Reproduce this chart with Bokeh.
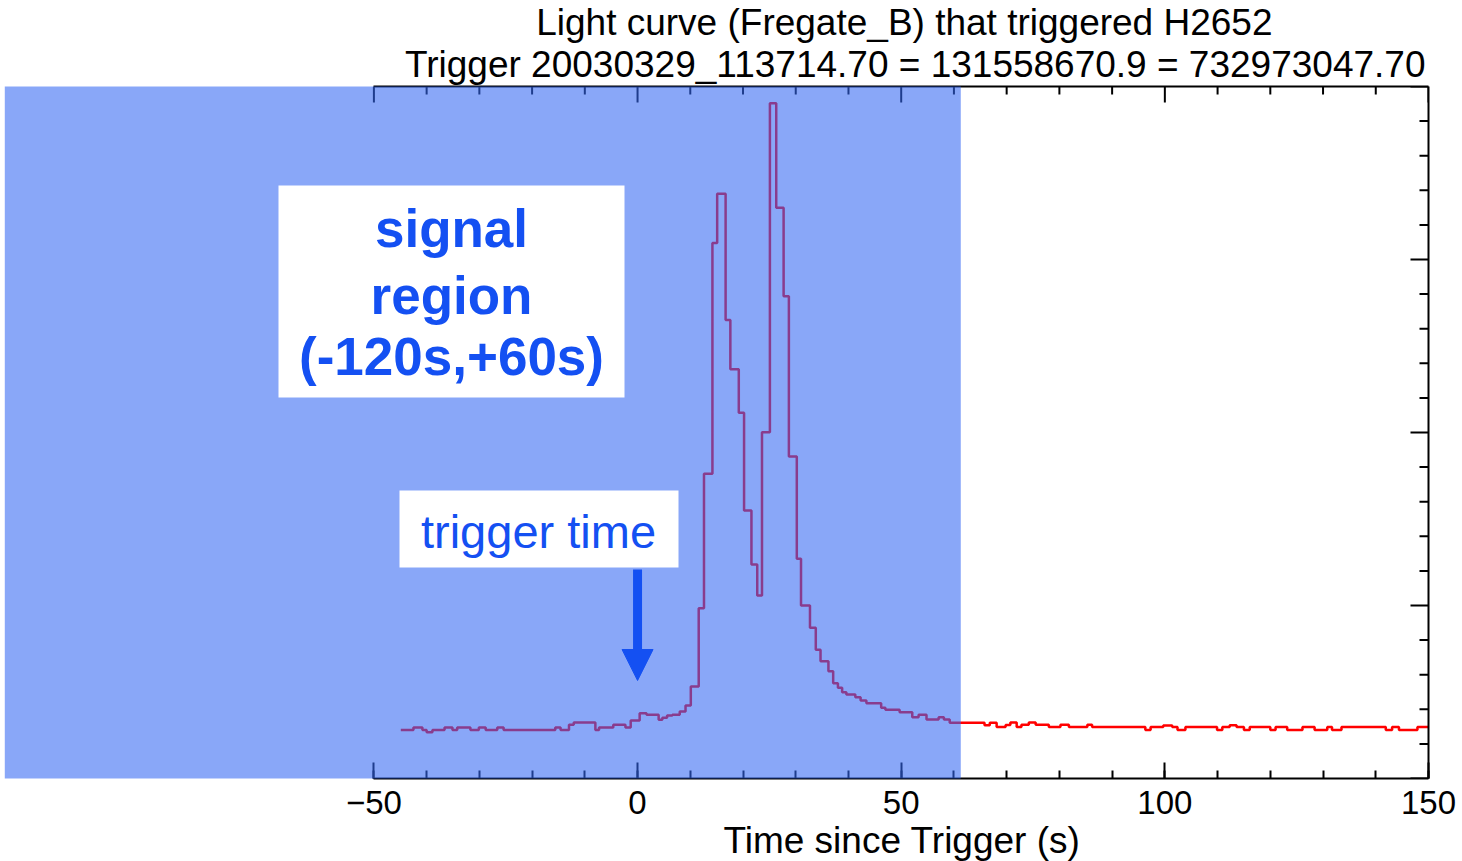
import numpy as np
from bokeh.plotting import figure
from bokeh.models import (LinearAxis, SingleIntervalTicker, FixedTicker, Range1d, Title, Label,
                          BoxAnnotation, Arrow, NormalHead)
from bokeh.embed import file_html
from bokeh.resources import INLINE

# ---------------- data ----------------
# bin edges of the light curve (s since trigger) and count level in each bin
edges = [-44.9, -42.5, -40.8, -40.0, -38.9, -36.6, -35.1, -34.2, -31.7, -30.1,
         -28.8, -26.6, -25.4, -15.6, -14.6, -13.0, -12.1, -8.0, -7.3, -4.6,
         -2.3, -1.3, 0.4, 1.7, 4.0, 4.7, 5.6, 6.6, 8.0, 9.1,
         10.1, 11.6, 12.6, 14.2, 15.1, 16.7, 17.6, 19.2, 20.2, 21.6,
         22.7, 23.6, 25.1, 26.3, 27.7, 28.7, 30.2, 31.0, 32.7, 33.8,
         34.7, 36.2, 37.1, 38.0, 38.8, 39.6, 41.3, 42.3, 43.4, 46.2,
         47.0, 49.7, 52.1, 53.3, 54.8, 57.1, 58.1, 59.2, 65.8, 66.8,
         68.1, 69.8, 70.7, 71.9, 72.8, 74.2, 75.5, 78.0, 80.2, 81.8,
         85.3, 86.2, 96.3, 97.3, 99.7, 101.4, 102.4, 103.9, 109.9, 110.9,
         112.3, 113.6, 115.0, 116.1, 120.0, 121.0, 123.2, 126.1, 128.4, 130.8,
         131.7, 133.5, 141.9, 143.1, 144.4, 147.9, 150.0]
counts = [1281, 1295, 1281, 1268, 1281, 1295, 1281, 1295, 1281, 1295,
          1281, 1295, 1281, 1295, 1281, 1310, 1324, 1281, 1295, 1310,
          1295, 1335, 1377, 1368, 1339, 1351, 1364, 1368, 1387, 1422,
          1532, 1984, 2761, 4096, 4380, 3651, 3366, 3114, 2549, 2237,
          2058, 3002, 4903, 4299, 3788, 2861, 2270, 2000, 1871, 1744,
          1678, 1620, 1551, 1524, 1499, 1486, 1470, 1451, 1435, 1409,
          1397, 1383, 1354, 1368, 1341, 1354, 1341, 1322, 1308, 1322,
          1297, 1309, 1324, 1297, 1310, 1324, 1310, 1297, 1310, 1297,
          1310, 1297, 1281, 1297, 1306, 1297, 1281, 1297, 1281, 1297,
          1308, 1297, 1281, 1297, 1281, 1297, 1281, 1297, 1281, 1297,
          1281, 1297, 1281, 1297, 1281, 1297]

signal_region = (-120, 61.3)    # s, shaded box as drawn (labelled -120 s .. +60 s)
trigger_time = 0                # s
x_axis_span = (-50, 150)
y_span = (1000, 5000)
x_major, x_minor = 50, 10
y_major, y_minor = 1000, 200
x_tick_values = list(range(-50, 151, 10))
y_tick_values = list(range(1000, 5001, 200))

title_main = "Light curve (Fregate_B) that triggered H2652"
title_sub = "Trigger 20030329_113714.70 = 131558670.9 = 732973047.70"
x_label = "Time since Trigger (s)"
signal_text = ["signal", "region", "(-120s,+60s)"]
trigger_text = "trigger time"

# ---------------- layout constants (pixels) ----------------
FL, FR, FT, FB = 11, 1428, 86, 778
FW, FH = FR - FL, FB - FT
px_per_s = 5.273
x_start = x_axis_span[1] - FW / px_per_s
data_per_px_y = (y_span[1] - y_span[0]) / FH

def tx(px):
    return x_start + (px - FL) / px_per_s

def vy(py):
    return y_span[1] - (py - FT) * data_per_px_y

OVERLAY = (52, 104, 243)
TXT_BLUE = "#1450F2"
FONT = "Liberation Sans"

# ---------------- figure ----------------
p = figure(frame_width=FW, frame_height=FH,
           x_range=Range1d(x_start, x_axis_span[1]), y_range=Range1d(*y_span),
           output_backend="svg", toolbar_location=None, title=None,
           y_axis_location="right",
           min_border_left=FL, min_border_right=1462 - FR,
           min_border_top=FT, min_border_bottom=861 - FB)
p.background_fill_color = "white"
p.border_fill_color = "white"
p.outline_line_color = None
p.grid.visible = False

# stair-step light curve
xs, ys = [], []
for i, c in enumerate(counts):
    xs += [edges[i], edges[i + 1]]
    ys += [c, c]
p.line(xs, ys, line_color="#FF0000", line_width=2.5)

# inward tick marks on the top and right edges
tx0, tx1, tyv0, tyv1 = [], [], [], []
for t in x_tick_values:
    L = 16 if t % x_major == 0 else 8
    tx0.append(t); tx1.append(t)
    tyv0.append(y_span[1]); tyv1.append(y_span[1] - L * data_per_px_y)
for v in y_tick_values:
    L = 18 if v % y_major == 0 else 9
    tx0.append(x_axis_span[1]); tx1.append(x_axis_span[1] - L / px_per_s)
    tyv0.append(v); tyv1.append(v)
p.segment(x0=tx0, y0=tyv0, x1=tx1, y1=tyv1, line_color="black", line_width=2)

# bottom axis
xa = p.xaxis[0]
xa.bounds = x_axis_span
xa.ticker = SingleIntervalTicker(interval=x_major, num_minor_ticks=x_major // x_minor)
xa.major_tick_in, xa.major_tick_out = 16, 0
xa.minor_tick_in, xa.minor_tick_out = 8, 0
xa.axis_line_width = 2
xa.major_tick_line_width = 2
xa.minor_tick_line_width = 2
xa.major_label_text_font = FONT
xa.major_label_text_font_size = "33px"
xa.major_label_text_color = "black"
xa.major_label_standoff = 12
xa.major_label_overrides = {-50: "\u221250"}

# right axis: line only
ya = p.yaxis[0]
ya.ticker = FixedTicker(ticks=[], minor_ticks=[])
ya.axis_line_width = 2
ya.major_tick_line_color = None
ya.minor_tick_line_color = None

# top axis: line only
top = LinearAxis(bounds=x_axis_span, ticker=FixedTicker(ticks=[], minor_ticks=[]),
                 axis_line_width=2, major_tick_line_color=None, minor_tick_line_color=None)
p.add_layout(top, "above")

# titles
p.add_layout(Title(text=title_sub, align="right", offset=3, standoff=4,
                   text_font=FONT, text_font_size="37px", text_font_style="normal",
                   text_color="black"), "above")
p.add_layout(Title(text=title_main, align="right", offset=156, standoff=-7,
                   text_font=FONT, text_font_size="37px", text_font_style="normal",
                   text_color="black"), "above")
p.add_layout(Title(text=x_label, align="right", offset=348, standoff=3,
                   text_font=FONT, text_font_size="37px", text_font_style="normal",
                   text_color="black"), "below")

# semi-transparent signal-region overlay
p.quad(left=[signal_region[0]], right=[signal_region[1]], bottom=[y_span[0]], top=[y_span[1]],
       fill_color=OVERLAY, fill_alpha=0.58, line_color=None, level="annotation")

# white text boxes
p.add_layout(BoxAnnotation(left=tx(278), right=tx(624), top=vy(185), bottom=vy(397),
                           fill_color="white", fill_alpha=1.0, line_color=None))
for txt, base in zip(signal_text, [228, 295, 356]):
    p.add_layout(Label(x=tx(451), y=vy(base), text=txt, text_align="center",
                       text_baseline="alphabetic", text_font=FONT, text_font_style="bold",
                       text_font_size="53px", text_color=TXT_BLUE))

p.add_layout(BoxAnnotation(left=tx(399), right=tx(678), top=vy(490), bottom=vy(567),
                           fill_color="white", fill_alpha=1.0, line_color=None))
p.add_layout(Label(x=tx(538), y=vy(531), text=trigger_text, text_align="center",
                   text_baseline="alphabetic", text_font=FONT, text_font_style="normal",
                   text_font_size="47px", text_color=TXT_BLUE))

p.add_layout(Arrow(x_start=trigger_time, y_start=vy(569), x_end=trigger_time, y_end=vy(680),
                   line_color=TXT_BLUE, line_width=9,
                   end=NormalHead(size=31, fill_color=TXT_BLUE, line_color=TXT_BLUE, line_width=1)))

open("out.html", "w").write(file_html(p, INLINE))
